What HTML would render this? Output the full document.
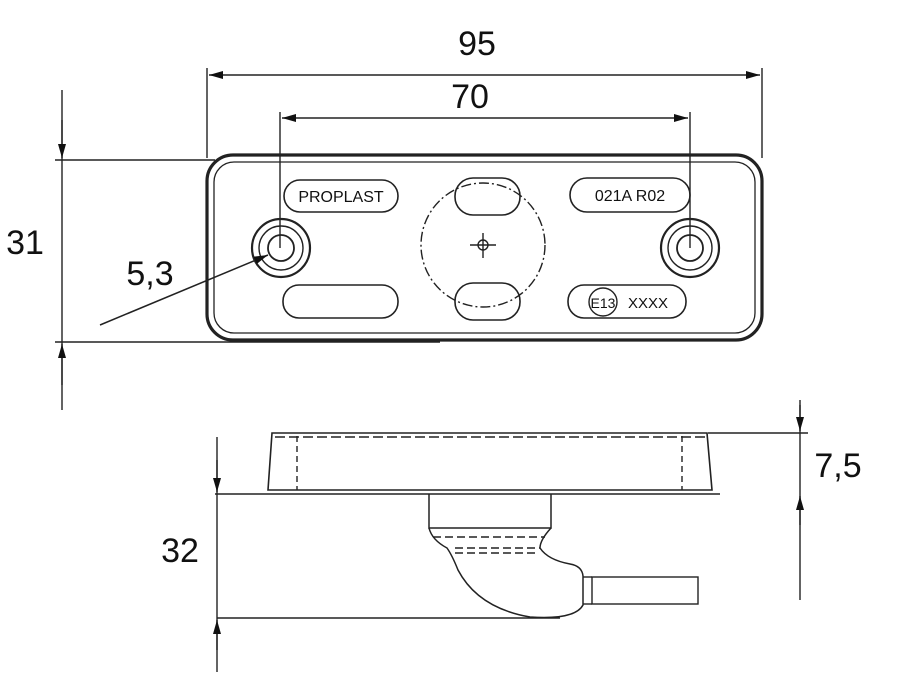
<!DOCTYPE html>
<html><head><style>body{margin:0;background:#fff}svg{display:block}</style></head><body>
<svg width="900" height="675" viewBox="0 0 900 675" xmlns="http://www.w3.org/2000/svg" font-family="Liberation Sans, sans-serif">
<defs>
<marker id="a" markerWidth="14" markerHeight="8" refX="14" refY="4" orient="auto" markerUnits="userSpaceOnUse"><path d="M0,0 L14,4 L0,8 z" fill="#111"/></marker>
</defs>
<g stroke="#222" fill="none" stroke-width="1.4">
<line x1="207" y1="68" x2="207" y2="158"/><line x1="762" y1="68" x2="762" y2="158"/>
<line x1="477" y1="75" x2="209" y2="75" marker-end="url(#a)"/><line x1="477" y1="75" x2="760" y2="75" marker-end="url(#a)"/>
<line x1="280" y1="112" x2="280" y2="248"/><line x1="690" y1="112" x2="690" y2="248"/>
<line x1="480" y1="118" x2="282" y2="118" marker-end="url(#a)"/><line x1="480" y1="118" x2="688" y2="118" marker-end="url(#a)"/>
<line x1="62" y1="90" x2="62" y2="410"/>
<line x1="55" y1="160" x2="215" y2="160"/><line x1="55" y1="342" x2="440" y2="342"/>
<line x1="62" y1="120" x2="62" y2="158" marker-end="url(#a)"/><line x1="62" y1="385" x2="62" y2="344" marker-end="url(#a)"/>
<rect x="207" y="155" width="555" height="185" rx="26" stroke-width="3.2"/>
<rect x="214" y="162" width="541" height="171" rx="20" stroke-width="1.3"/>
<circle cx="281" cy="248" r="29" stroke-width="2.2"/><circle cx="281" cy="248" r="22"/><circle cx="281" cy="248" r="13" stroke-width="1.8"/>
<circle cx="690" cy="248" r="29" stroke-width="2.2"/><circle cx="690" cy="248" r="22"/><circle cx="690" cy="248" r="13" stroke-width="1.8"/>
<line x1="100" y1="325" x2="268" y2="255" marker-end="url(#a)" stroke-width="1.5"/>
<rect x="284" y="180" width="114" height="32" rx="16" stroke-width="1.6"/>
<rect x="570" y="178" width="120" height="34" rx="17" stroke-width="1.6"/>
<rect x="283" y="285" width="115" height="33" rx="16" stroke-width="1.6"/>
<rect x="568" y="285" width="118" height="33" rx="16" stroke-width="1.6"/>
<circle cx="603" cy="302" r="14"/>
<circle cx="483" cy="245" r="62" stroke-dasharray="10,3,2,3"/>
<rect x="455" y="178" width="65" height="37" rx="18" stroke-width="1.6"/>
<rect x="455" y="283" width="65" height="37" rx="18" stroke-width="1.6"/>
<line x1="483" y1="233" x2="483" y2="258"/><line x1="470" y1="245" x2="496" y2="245"/>
<circle cx="483" cy="245" r="5"/>
<path d="M272,433 L707,433 L712,490 L268,490 Z" stroke-width="1.6"/>
<line x1="297" y1="436" x2="297" y2="490" stroke-dasharray="6,4"/><line x1="682" y1="436" x2="682" y2="490" stroke-dasharray="6,4"/>
<line x1="275" y1="437" x2="705" y2="437" stroke-dasharray="10,4"/>
<line x1="215" y1="494" x2="720" y2="494"/>
<line x1="708" y1="433" x2="808" y2="433"/>
<line x1="800" y1="400" x2="800" y2="600"/>
<line x1="800" y1="405" x2="800" y2="431" marker-end="url(#a)"/><line x1="800" y1="525" x2="800" y2="496" marker-end="url(#a)"/>
<line x1="217" y1="437" x2="217" y2="672"/>
<line x1="217" y1="460" x2="217" y2="492" marker-end="url(#a)"/><line x1="217" y1="650" x2="217" y2="620" marker-end="url(#a)"/>
<line x1="217" y1="618" x2="560" y2="618"/>
<path d="M429,494 L429,528 L551,528 L551,494" stroke-width="1.5"/>
<path d="M429,528 Q432,540 447,548 Q452,555 458,570 Q478,608 530,617 Q575,620 583,605 L583,576 Q582,566 570,564 Q548,560 540,548 Q540,540 551,528" stroke-width="1.5"/>
<line x1="433" y1="537" x2="545" y2="537" stroke-dasharray="8,4"/>
<line x1="455" y1="548" x2="540" y2="548" stroke-dasharray="8,4"/>
<line x1="455" y1="553" x2="535" y2="553" stroke-dasharray="8,4"/>
<rect x="592" y="577" width="106" height="27"/>
<line x1="583" y1="577" x2="592" y2="577"/><line x1="583" y1="604" x2="592" y2="604"/>
</g>
<g fill="#111" font-size="34">
<text x="477" y="55" text-anchor="middle">95</text>
<text x="470" y="108" text-anchor="middle">70</text>
<text x="25" y="254" text-anchor="middle">31</text>
<text x="150" y="285" text-anchor="middle">5,3</text>
<text x="838" y="477" text-anchor="middle">7,5</text>
<text x="180" y="562" text-anchor="middle">32</text>
</g>
<g fill="#111" font-size="16">
<text x="341" y="202" text-anchor="middle">PROPLAST</text>
<text x="630" y="201" text-anchor="middle">021A R02</text>
<text x="603" y="308" text-anchor="middle" font-size="14">E13</text>
<text x="648" y="308" text-anchor="middle" font-size="15">XXXX</text>
</g>
</svg>
</body></html>
